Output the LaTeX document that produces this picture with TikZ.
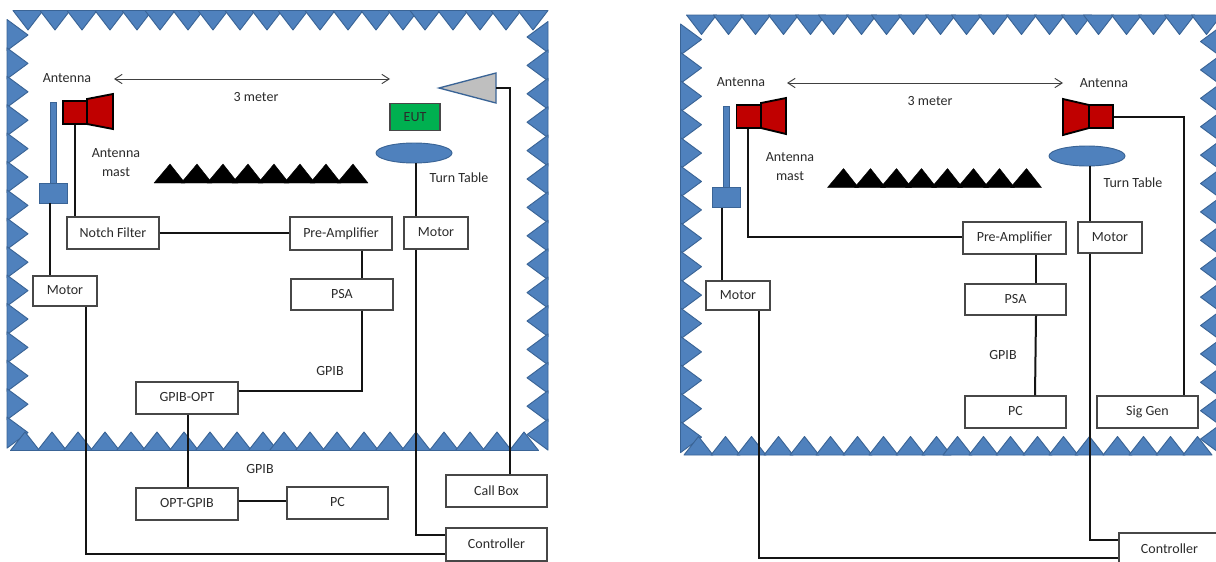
\documentclass[tikz,border=0pt]{standalone}
\usepackage{fontspec}
\setmainfont{Carlito}
\usetikzlibrary{shapes.geometric,arrows.meta}
\definecolor{absblue}{HTML}{4F81BD}
\definecolor{absedge}{HTML}{3A6496}
\definecolor{hornred}{HTML}{C00000}
\definecolor{eutgreen}{HTML}{00B050}
\definecolor{labelink}{HTML}{2B2B2B}
\tikzset{
  wire/.style={draw=black!92,line width=1.5pt,line join=miter},
  boxnode/.style={draw=black!72,line width=0.85pt,fill=white,inner sep=0pt,text=labelink,font=\fontsize{10.5pt}{12pt}\selectfont},
  lbl/.style={inner sep=0pt,text=labelink,font=\fontsize{10.5pt}{12pt}\selectfont},
  tooth/.style={fill=absblue,draw=absedge,line width=0.7pt,line join=round},
  cone/.style={fill=black,draw=black,line width=0.3pt,line join=round},
  horn/.style={fill=hornred,draw=black,line width=1.4pt,line join=miter},
  span/.style={draw=black!75,line width=0.7pt,{Straight Barb[length=5.5pt,width=7pt]}-{Straight Barb[length=5.5pt,width=7pt]}},
  mastpart/.style={fill=absblue,draw=absedge,line width=0.6pt},
  tablenode/.style={ellipse,fill=absblue,draw=absedge,line width=0.7pt,inner sep=0pt},
  redbox/.style={fill=hornred,draw=black,line width=1.4pt,inner sep=0pt}
}
% name, x1, y1, x2, y2, text
\newcommand{\placebox}[6]{%
  \pgfmathsetmacro{\bw}{(#4-#2)*0.75}\pgfmathsetmacro{\bh}{(#5-#3)*0.75}%
  \node[boxnode,minimum width=\bw pt,minimum height=\bh pt] (#1) at ({(#2+#4)/2},{(#3+#5)/2}) {\raisebox{1pt}{#6}};}
\newcommand{\chamberwalls}{%
  \foreach \t in {28,55,82,110,137,160,188,213,240,267,293,320,348,376,403,425,453,480,506,533}
    \draw[tooth] (\t-15,10.5) -- (\t+15,10.5) -- (\t,30) -- cycle;
  \foreach \k in {0,...,14}
    \draw[tooth] (7,{35+28.4*\k-15.5}) -- (7,{35+28.4*\k+15.5}) -- (28,{35+28.4*\k}) -- cycle;
  \foreach \k in {0,...,14}
    \draw[tooth] (548,{37+28.4*\k-15.5}) -- (548,{37+28.4*\k+15.5}) -- (527,{37+28.4*\k}) -- cycle;
  \foreach \t in {25,52,78,105,131,157,184,210,237,263,284,310,337,364,390,416,444,470,497,524}
    \draw[tooth] (\t-14.5,450.5) -- (\t+14.5,450.5) -- (\t,432) -- cycle;
  \foreach \t in {170,197,223,248,274,300,326,353}
    \fill[cone] (\t-16,183) -- (\t+15,183) -- (\t,164) -- cycle;
}
\begin{document}
\begin{tikzpicture}[x=0.75pt,y=-0.75pt]
\path[use as bounding box,clip] (0,0) rectangle (1216,561);
\fill[white] (0,0) rectangle (1216,561);
\chamberwalls
\begin{scope}[shift={(673.5,4.5)}]\chamberwalls\end{scope}

% ---------- left diagram ----------
\draw[span] (114,79) -- (390,79);
\node[lbl] (a1txt) at (67,78) {Antenna};
\node[lbl] (m1txt) at (256,97) {3 meter};
\node[lbl] (a2txt) at (116,153) {Antenna};
\node[lbl] (a3txt) at (116,172) {mast};
\node[lbl] (tt1txt) at (459,178) {Turn Table};
\node[lbl] (g1txt) at (330,371) {GPIB};
\node[lbl] (g2txt) at (260,469) {GPIB};

\fill[mastpart] (50,102) rectangle (56,184);
\node[mastpart,minimum width=21pt,minimum height=15pt,inner sep=0pt] (slideA) at (53,193) {};
\draw[horn] (87,99) -- (113,94) -- (113,129) -- (87,124) -- cycle;
\node[redbox,minimum width=18pt,minimum height=17pt] (antA) at (75,112.5) {};
\draw[fill=lightgray!100,draw=absedge,line width=1pt,line join=miter] (439,88) -- (496,73) -- (496,103) -- cycle;
\coordinate (triA) at (496,88);
\node[draw=black!72,line width=0.8pt,fill=eutgreen,minimum width=37.5pt,minimum height=20pt,inner sep=0pt,text=labelink,font=\fontsize{10.5pt}{12pt}\selectfont] (eut) at (415,117) {EUT};
\node[tablenode,minimum width=57pt,minimum height=15pt] (tableA) at (414,153) {};

\placebox{notch}{67}{217}{159}{249}{Notch Filter}
\placebox{preA}{290}{217}{392}{250}{Pre-Amplifier}
\placebox{psaA}{291}{279}{393}{310}{PSA}
\placebox{motorAr}{404}{217}{468}{249}{Motor}
\placebox{motorAl}{33}{276}{97}{306}{Motor}
\placebox{gpibopt}{136}{382}{238}{414}{GPIB-OPT}
\placebox{optgpib}{136}{488}{238}{520}{OPT-GPIB}
\placebox{pcA}{287}{487}{388}{519}{PC}
\placebox{callbox}{446}{475}{547}{507}{Call Box}
\placebox{ctrlA}{446}{528}{547}{561}{Controller}

\coordinate (x75) at (75,0);
\coordinate (x49) at (49.5,0);
\coordinate (x86) at (86,0);
\coordinate (x362) at (362,0);
\coordinate (x188) at (188,0);
\coordinate (x416) at (416,0);
\coordinate (x510) at (510,0);
\coordinate (y233) at (0,233);
\coordinate (y391) at (0,391);
\coordinate (y501) at (0,501);
\coordinate (y554) at (0,554);
\coordinate (y535) at (0,535);
\draw[wire] (antA.south -| x75) -- (notch.north -| x75);
\draw[wire] (slideA.south -| x49) -- (motorAl.north -| x49);
\draw[wire] (notch.east |- y233) -- (preA.west |- y233);
\draw[wire] (preA.south -| x362) -- (psaA.north -| x362);
\draw[wire] (psaA.south -| x362) -- (x362 |- y391) -- (gpibopt.east |- y391);
\draw[wire] (gpibopt.south -| x188) -- (optgpib.north -| x188);
\draw[wire] (optgpib.east |- y501) -- (pcA.west |- y501);
\draw[wire] (motorAl.south -| x86) -- (x86 |- y554) -- (ctrlA.west |- y554);
\draw[wire] (tableA.south -| x416) -- (motorAr.north -| x416);
\draw[wire] (motorAr.south -| x416) -- (x416 |- y535) -- (ctrlA.west |- y535);
\draw[wire] (triA) -- (x510 |- triA) -- (callbox.north -| x510);

% ---------- right diagram ----------
\draw[span] (787,83) -- (1063,83);
\node[lbl] (b1txt) at (741,82) {Antenna};
\node[lbl] (b2txt) at (930,101) {3 meter};
\node[lbl] (b3txt) at (1104,83) {Antenna};
\node[lbl] (b4txt) at (790,157) {Antenna};
\node[lbl] (b5txt) at (790,176) {mast};
\node[lbl] (tt2txt) at (1133,183) {Turn Table};
\node[lbl] (g3txt) at (1003,355) {GPIB};

\fill[mastpart] (723,106) rectangle (729,188);
\node[mastpart,minimum width=21pt,minimum height=15pt,inner sep=0pt] (slideB) at (726,197.5) {};
\draw[horn] (761,103) -- (786,98) -- (786,134) -- (761,128) -- cycle;
\node[redbox,minimum width=18pt,minimum height=17pt] (antB) at (748.5,116.5) {};
\draw[horn] (1063,99) -- (1089,105) -- (1089,128) -- (1063,135) -- cycle;
\node[redbox,minimum width=18pt,minimum height=17pt] (antC) at (1101,116.5) {};
\node[tablenode,minimum width=57pt,minimum height=15pt] (tableB) at (1087,156) {};

\placebox{preB}{963}{222}{1066}{254}{Pre-Amplifier}
\placebox{psaB}{965}{284}{1066}{315}{PSA}
\placebox{motorBr}{1078}{222}{1142}{253}{Motor}
\placebox{motorBl}{706}{281}{770}{310}{Motor}
\placebox{pcB}{965}{396}{1066}{428}{PC}
\placebox{siggen}{1097}{396}{1198}{428}{Sig Gen}
\placebox{ctrlB}{1119}{533}{1220}{566}{Controller}

\coordinate (x748) at (748,0);
\coordinate (x722) at (722,0);
\coordinate (x759) at (759,0);
\coordinate (x1036) at (1036,0);
\coordinate (x1035) at (1035,0);
\coordinate (x1090) at (1090,0);
\coordinate (x1184) at (1184,0);
\coordinate (y237) at (0,237);
\coordinate (y558) at (0,558);
\coordinate (y540) at (0,540);
\draw[wire] (antB.south -| x748) -- (x748 |- y237) -- (preB.west |- y237);
\draw[wire] (slideB.south -| x722) -- (motorBl.north -| x722);
\draw[wire] (preB.south -| x1036) -- (psaB.north -| x1036);
\draw[wire] (psaB.south -| x1036) -- (pcB.north -| x1035);
\draw[wire] (motorBl.south -| x759) -- (x759 |- y558) -- (ctrlB.west |- y558);
\draw[wire] (tableB.south -| x1090) -- (motorBr.north -| x1090);
\draw[wire] (motorBr.south -| x1090) -- (x1090 |- y540) -- (ctrlB.west |- y540);
\draw[wire] (antC.east) -- (x1184 |- antC.east) -- (siggen.north -| x1184);
\end{tikzpicture}
\end{document}
